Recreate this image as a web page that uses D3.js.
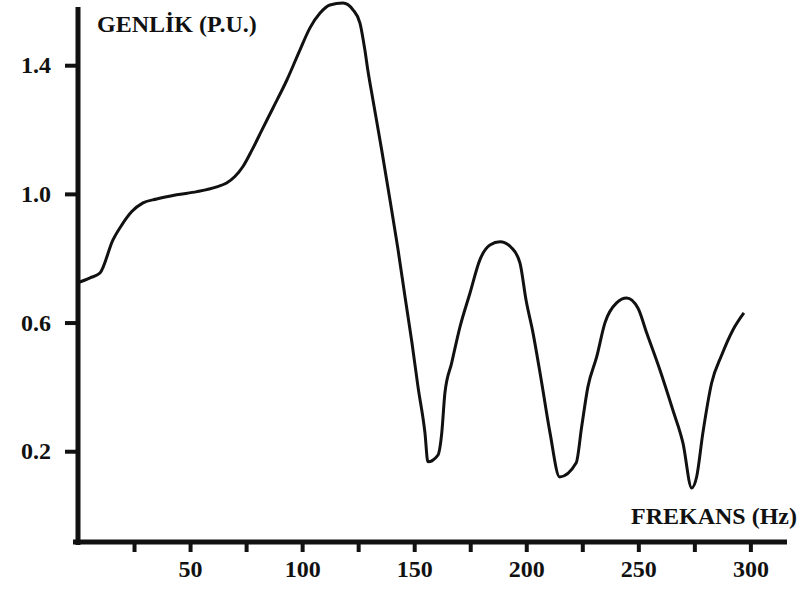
<!DOCTYPE html>
<html>
<head>
<meta charset="utf-8">
<script src="https://cdn.jsdelivr.net/npm/d3@7"></script>
<style>
	body { margin: 0; background: #fff; }
	svg text { font-family: "Liberation Serif", "Times New Roman", serif; font-weight: bold; fill: #111; }
</style>
</head>
<body>
<div class="chart"></div>
<script>

// frequency (Hz)
const freq = [0, 5.4, 9.8, 15.6, 19.5, 24.0, 29.0, 35.1, 44.0, 53.0, 61.9, 66.3, 70.0, 73.6, 77.6,
	82.1, 87.0, 93.2, 99.0, 103.5, 108.0, 112.4, 118.2, 122.7, 125.8, 128.0, 129.3, 131.6, 135.5, 139.2,
	142.8, 145.9, 149.0, 151.7, 154.8, 156.1, 160.6, 162.3, 163.7, 166.7, 170.4, 174.9, 179.3, 183.8,
	188.3, 193.5, 197.2, 199.9, 203.0, 206.9, 210.6, 214.9, 222.3, 224.7, 227.5, 231.4, 235.1, 240.3,
	244.8, 249.8, 253.7, 259.6, 265.4, 269.9, 273.8, 276.0, 278.8, 282.7, 287.2, 292.2, 297.1];

// amplitude (p.u.)
const amp = [0.724, 0.739, 0.754, 0.857, 0.903, 0.945, 0.972, 0.984, 0.997, 1.007, 1.022, 1.034, 1.054, 1.085, 1.136,
	1.199, 1.267, 1.354, 1.447, 1.516, 1.562, 1.587, 1.593, 1.572, 1.531, 1.447, 1.385, 1.292, 1.136, 0.981,
	0.826, 0.680, 0.537, 0.400, 0.257, 0.167, 0.188, 0.257, 0.381, 0.474, 0.586, 0.692, 0.795, 0.841,
	0.851, 0.832, 0.785, 0.670, 0.568, 0.412, 0.257, 0.120, 0.164, 0.275, 0.400, 0.493, 0.599, 0.661,
	0.676, 0.645, 0.568, 0.453, 0.328, 0.226, 0.086, 0.120, 0.257, 0.412, 0.499, 0.577, 0.630];

const yTicks = [0.2, 0.6, 1.0, 1.4];
const xTicks = [25, 50, 75, 100, 125, 150, 175, 200, 225, 250, 275, 300];
const yTitle = "GENLİK (P.U.)";
const xTitle = "FREKANS (Hz)";

const width = 803;
const height = 592;

const svg = d3.select(".chart")
				.append("svg")
				.attr("width", width)
				.attr("height", height);

const x = d3.scaleLinear()
			.domain([0, 300])
			.range([78, 750.4]);

const y = d3.scaleLinear()
			.domain([-0.08, 1.58])
			.range([541.3, 7.3]);

const data = freq.map((f, i) => ({ f: f, a: amp[i] }));

// y axis ticks + labels
svg.append("g")
	.attr("transform", "translate(78,0)")
	.call(d3.axisLeft(y)
		.tickValues(yTicks)
		.tickFormat(d3.format(".1f"))
		.tickSizeInner(13)
		.tickSizeOuter(0)
		.tickPadding(14));

// x axis ticks + labels
svg.append("g")
	.attr("transform", "translate(0,542)")
	.call(d3.axisBottom(x)
		.tickValues(xTicks)
		.tickFormat((d) => d % 50 === 0 ? d : "")
		.tickSizeInner(10)
		.tickSizeOuter(0)
		.tickPadding(8));

svg.selectAll(".domain").remove();
svg.selectAll(".tick line")
	.attr("stroke", "#111")
	.attr("stroke-width", 4);
svg.selectAll(".tick text")
	.style("font-size", "24px");

// axis lines, drawn a little past the scale ends like the original
svg.append("line")
	.attr("x1", 78).attr("x2", 78)
	.attr("y1", 7).attr("y2", 545)
	.attr("stroke", "#111")
	.attr("stroke-width", 5);

svg.append("line")
	.attr("x1", 73).attr("x2", 787)
	.attr("y1", 542).attr("y2", 542)
	.attr("stroke", "#111")
	.attr("stroke-width", 5);

// curve
const line = d3.line()
	.x((d) => x(d.f))
	.y((d) => y(d.a))
	.curve(d3.curveMonotoneX);

svg.append("path")
	.datum(data)
	.attr("d", line)
	.attr("fill", "none")
	.attr("stroke", "#111")
	.attr("stroke-width", 3)
	.attr("stroke-linejoin", "round");

// titles
svg.append("text")
	.attr("x", 97)
	.attr("y", 32)
	.style("font-size", "24px")
	.text(yTitle);

svg.append("text")
	.attr("x", 797)
	.attr("y", 524)
	.attr("text-anchor", "end")
	.style("font-size", "24px")
	.text(xTitle);

</script>
</body>
</html>
